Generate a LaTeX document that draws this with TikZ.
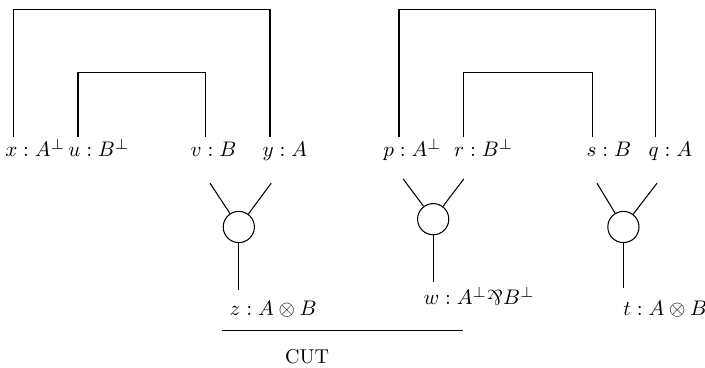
\documentclass[tikz,border=0pt]{standalone}
\usepackage{amsmath,amssymb}
\usepackage{graphicx}
\usepackage{tikz}
\usetikzlibrary{calc}

\newcommand{\parrsym}{\mathord{\rotatebox[origin=c]{180}{\&}}}

\begin{document}
\begin{tikzpicture}[line width=0.5pt, lbl/.style={anchor=base west, inner sep=0pt},
    cell/.style={draw, circle, minimum size=0.52cm, inner sep=0pt}]
    \useasboundingbox (0,0) rectangle (11.75,6.133);

    % Conclusions of the axiom links
    \node[lbl] (x) at (0.08,3.52) {$x : A^\perp$};
    \node[lbl] (u) at (1.13,3.52) {$u : B^\perp$};
    \node[lbl] (v) at (3.17,3.52) {$v : B$};
    \node[lbl] (y) at (4.37,3.52) {$y : A$};
    \node[lbl] (p) at (6.38,3.52) {$p : A^\perp$};
    \node[lbl] (r) at (7.56,3.52) {$r : B^\perp$};
    \node[lbl] (s) at (9.77,3.52) {$s : B$};
    \node[lbl] (q) at (10.8,3.52) {$q : A$};

    \coordinate (X) at (0.22,3.85);
    \coordinate (U) at (1.3,3.85);
    \coordinate (V) at (3.43,3.85);
    \coordinate (Y) at (4.5,3.85);
    \coordinate (P) at (6.65,3.85);
    \coordinate (R) at (7.72,3.85);
    \coordinate (S) at (9.87,3.85);
    \coordinate (Q) at (10.93,3.85);

    % Axiom links
    \draw (X) -- ++(0,2.13) -| (Y);
    \draw (U) -- ++(0,1.07) -| (V);
    \draw (P) -- ++(0,2.13) -| (Q);
    \draw (R) -- ++(0,1.07) -| (S);

    % Tensor and par cells
    \node[cell] (c1) at (3.98,2.35) {};
    \node[cell] (c2) at (7.22,2.48) {};
    \node[cell] (c3) at (10.39,2.35) {};

    \coordinate (c1l) at (3.5,3.08);
    \coordinate (c1r) at (4.52,3.08);
    \coordinate (c1o) at (3.98,1.3);
    \coordinate (c2l) at (6.72,3.15);
    \coordinate (c2r) at (7.73,3.15);
    \coordinate (c2o) at (7.22,1.43);
    \coordinate (c3l) at (9.95,3.08);
    \coordinate (c3r) at (10.95,3.08);
    \coordinate (c3o) at (10.39,1.33);

    \draw (c1l) -- (c1);
    \draw (c1r) -- (c1);
    \draw (c1) -- (c1o);
    \draw (c2l) -- (c2);
    \draw (c2r) -- (c2);
    \draw (c2) -- (c2o);
    \draw (c3l) -- (c3);
    \draw (c3r) -- (c3);
    \draw (c3) -- (c3o);

    % Conclusions of the cells
    \node[lbl] (z) at (3.82,0.88) {$z : A \otimes B$};
    \node[lbl] (w) at (7.05,1.05) {$w : A^\perp\parrsym B^\perp$};
    \node[lbl] (t) at (10.38,0.87) {$t : A \otimes B$};

    % Cut
    \coordinate (cutL) at (3.7,0.63);
    \coordinate (cutR) at (7.72,0.63);
    \draw (cutL) -- (cutR);
    \node[anchor=base, inner sep=0pt, font=\fontsize{9.5}{11}\selectfont] (cut) at (5.12,0.08) {CUT};
\end{tikzpicture}
\end{document}
